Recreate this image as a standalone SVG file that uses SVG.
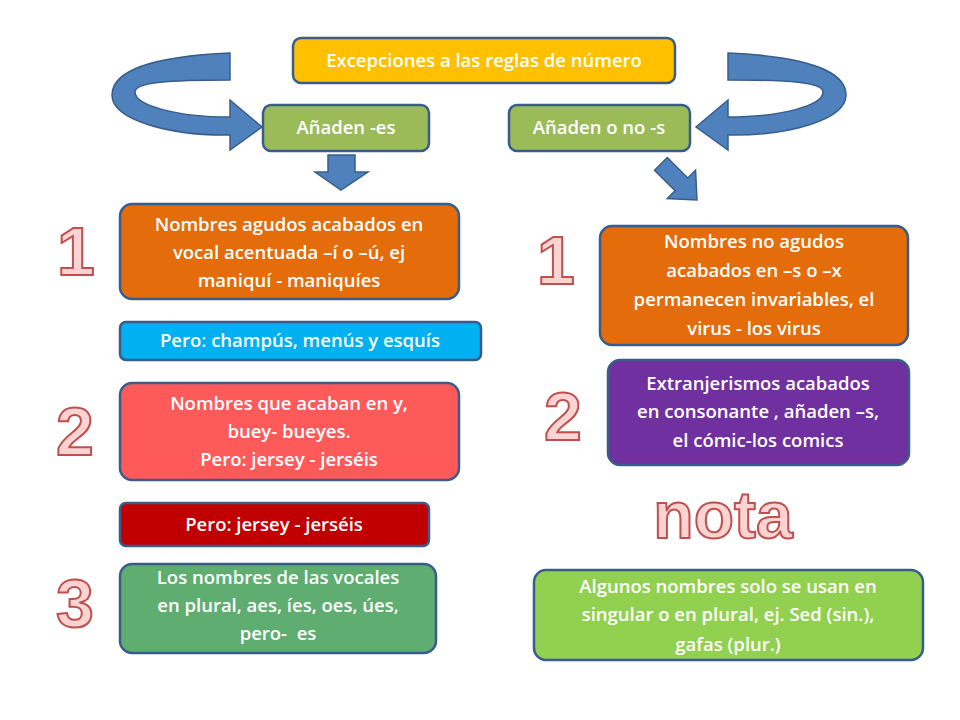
<svg xmlns="http://www.w3.org/2000/svg" width="960" height="720" viewBox="0 0 960 720">
<style>
.b{stroke:#385d8a;stroke-width:2.5}
.t{font-family:"Open Sans","Liberation Sans",sans-serif;font-size:18.5px;font-weight:600;fill:#fff;text-anchor:middle}
.n{font-family:"Liberation Sans",sans-serif;font-weight:bold;fill:#fbd3d3;stroke:#c0504d;stroke-width:2;text-anchor:middle}
.a{fill:#4f81bd;stroke:#385d8a;stroke-width:1.5}
</style>
<rect width="960" height="720" fill="#fff"/>
<g id="connectors">
<path class="a" d="M230,53 C140,57 112,75 112,95 C112,120 170,136 230,135 L230,150 L262,127 L230,100 L230,117 C175,117 135,105 135,92 C135,82 170,80 230,80 Z"/>
<path class="a" transform="translate(958,0) scale(-1,1)" d="M230,53 C140,57 112,75 112,95 C112,120 170,136 230,135 L230,150 L262,127 L230,100 L230,117 C175,117 135,105 135,92 C135,82 170,80 230,80 Z"/>
<polygon class="a" points="328,155 355,155 355,172 368,172 341,190 315,172 328,172"/>
<polygon class="a" transform="translate(680,183) rotate(-45)" points="-9,-27 9,-27 9,2 20,2 0,24 -20,2 -9,2"/>
</g>
<g id="title"><rect class="b" x="293" y="38" width="382" height="45" rx="8" fill="#ffc000"/><text class="t" x="484" y="67">Excepciones a las reglas de número</text></g>
<g id="es"><rect class="b" x="263" y="105" width="166" height="46" rx="8" fill="#9bbb59"/><text class="t" x="346" y="134">Añaden -es</text></g>
<g id="nos"><rect class="b" x="509" y="105" width="181" height="46" rx="8" fill="#9bbb59"/><text class="t" x="599" y="134">Añaden o no -s</text></g>
<g id="l1"><rect class="b" x="120" y="204" width="339" height="95" rx="12" fill="#e46c0a"/><text class="t"><tspan x="289" y="231">Nombres agudos acabados en</tspan><tspan x="289" y="259">vocal acentuada –í o –ú, ej</tspan><tspan x="289" y="287">maniquí - maniquíes</tspan></text></g>
<g id="l1b"><rect class="b" x="120" y="322" width="361" height="38" rx="6" fill="#00b0f0"/><text class="t" x="300" y="347">Pero: champús, menús y esquís</text></g>
<g id="l2"><rect class="b" x="120" y="383" width="339" height="97" rx="12" fill="#ff5a5a"/><text class="t"><tspan x="289" y="410">Nombres que acaban en y,</tspan><tspan x="289" y="438">buey- bueyes.</tspan><tspan x="289" y="466">Pero: jersey - jerséis</tspan></text></g>
<g id="l2b"><rect class="b" x="120" y="503" width="309" height="43" rx="6" fill="#c00000"/><text class="t" x="274" y="531">Pero: jersey - jerséis</text></g>
<g id="l3"><rect class="b" x="120" y="564" width="316" height="89" rx="12" fill="#60ad72"/><text class="t" xml:space="preserve"><tspan x="278" y="584">Los nombres de las vocales</tspan><tspan x="278" y="612">en plural, aes, íes, oes, úes,</tspan><tspan x="278" y="640">pero-  es</tspan></text></g>
<g id="r1"><rect class="b" x="600" y="226" width="308" height="119" rx="12" fill="#e46c0a"/><text class="t"><tspan x="754" y="248">Nombres no agudos</tspan><tspan x="754" y="277">acabados en –s o –x</tspan><tspan x="754" y="306">permanecen invariables, el</tspan><tspan x="754" y="335">virus - los virus</tspan></text></g>
<g id="r2"><rect class="b" x="608" y="360" width="301" height="105" rx="12" fill="#7030a0"/><text class="t"><tspan x="758" y="390">Extranjerismos acabados</tspan><tspan x="758" y="418">en consonante , añaden –s,</tspan><tspan x="758" y="447">el cómic-los comics</tspan></text></g>
<g id="nota-box"><rect class="b" x="534" y="570" width="389" height="90" rx="12" fill="#92d050"/><text class="t"><tspan x="728" y="593">Algunos nombres solo se usan en</tspan><tspan x="728" y="621">singular o en plural, ej. Sed (sin.),</tspan><tspan x="728" y="651">gafas (plur.)</tspan></text></g>
<g id="numbers">
<text class="n" x="76" y="275" font-size="68">1</text>
<text class="n" x="75" y="455" font-size="68">2</text>
<text class="n" x="75" y="627" font-size="68">3</text>
<text class="n" x="556" y="284" font-size="68">1</text>
<text class="n" x="563" y="440" font-size="68">2</text>
<text class="n" x="723" y="538" font-size="66">nota</text>
</g>
</svg>
